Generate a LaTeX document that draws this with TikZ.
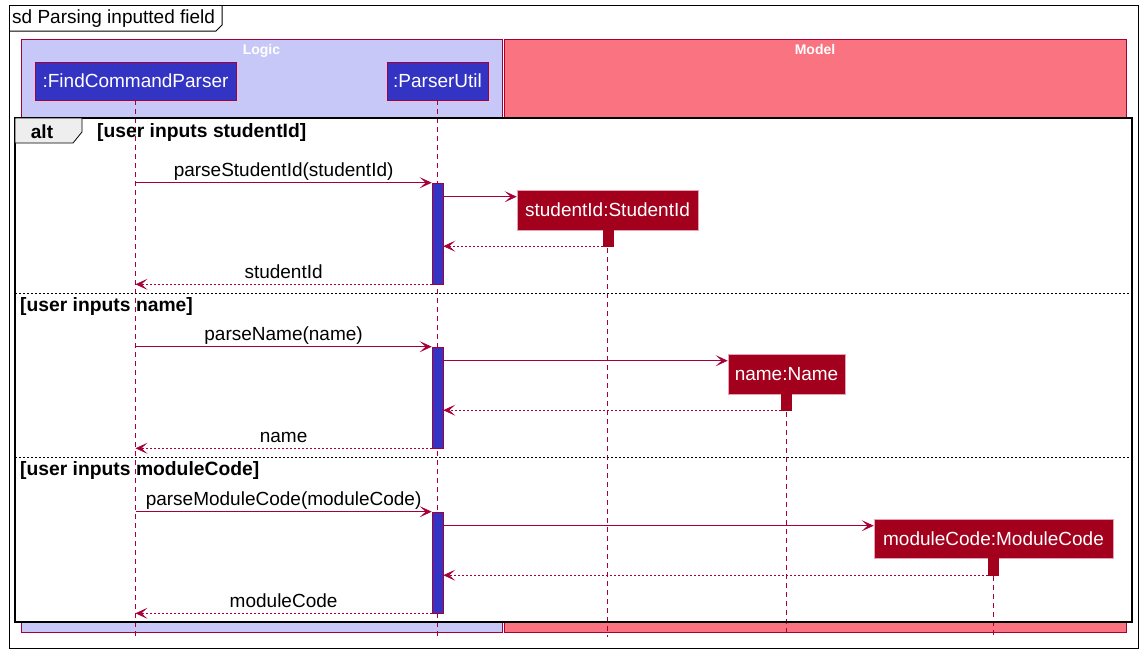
\documentclass[tikz,border=0pt]{standalone}
\usepackage{fontspec}
\setmainfont{Liberation Sans}
\usetikzlibrary{arrows.meta}

\definecolor{umlred}{RGB}{168,0,54}
\definecolor{logicfill}{RGB}{200,200,248}
\definecolor{modelfill}{RGB}{249,115,129}
\definecolor{actorblue}{RGB}{51,51,196}
\definecolor{objred}{RGB}{162,0,28}
\definecolor{objline}{RGB}{232,160,180}
\definecolor{tabgrey}{RGB}{238,238,238}

\tikzstyle{lane} = [rectangle, draw=umlred, line width=0.8pt, inner sep=0pt]
\tikzstyle{lanetitle} = [anchor=north, text=white, font=\fontsize{14}{16}\selectfont\bfseries, inner sep=0pt]
\tikzstyle{actor} = [rectangle, draw=umlred, line width=0.8pt, fill=actorblue, text=white, font=\fontsize{19}{21}\selectfont, inner sep=0pt]
\tikzstyle{created} = [rectangle, draw=objline, line width=0.6pt, fill=objred, text=white, font=\fontsize{19}{21}\selectfont, inner sep=0pt]
\tikzstyle{activation} = [rectangle, draw=umlred, line width=0.6pt, fill=actorblue, inner sep=0pt, minimum width=11pt]
\tikzstyle{objact} = [rectangle, draw=objred, fill=objred, inner sep=0pt, minimum width=10pt]
\tikzstyle{lifeline} = [draw=umlred, line width=0.8pt, dash pattern=on 5pt off 4pt]
\tikzstyle{call} = [draw=umlred, line width=0.8pt, -{Stealth[length=12pt,width=11pt,inset=6pt]}]
\tikzstyle{reply} = [call, dash pattern=on 2pt off 2pt]
\tikzstyle{msg} = [anchor=south, inner sep=1.5pt, text height=13.5pt, text depth=4pt, font=\fontsize{19}{21}\selectfont]
\tikzstyle{guard} = [anchor=west, inner sep=0pt, font=\fontsize{19.3}{21}\selectfont\bfseries]
\tikzstyle{separator} = [draw=black, line width=0.8pt, dash pattern=on 2pt off 2pt]

\begin{document}
\begin{tikzpicture}[x=1pt, y=-1pt]
\useasboundingbox (0,0) rectangle (1144,654);

% Frame
\node (frame) [rectangle, draw=black, line width=1pt, minimum width=1129pt, minimum height=643pt, inner sep=0pt] at (573.5,326.5) {};
\draw [line width=1pt] (9,31) -- (216,31) -- (222,25) -- (222,5);
\node (title) [anchor=west, inner sep=0pt, font=\fontsize{19}{21}\selectfont] at (12,19) {sd Parsing inputted field};

% Lanes
\node (logic) [lane, fill=logicfill, minimum width=481pt, minimum height=593pt] at (261.5,335.5) {};
\node (model) [lane, fill=modelfill, minimum width=622pt, minimum height=593pt] at (815,335.5) {};
\node (logictitle) [lanetitle] at ([yshift=-6pt]logic.north) {Logic};
\node (modeltitle) [lanetitle] at ([yshift=-6pt]model.north) {Model};

% Participants
\node (fcp) [actor, minimum width=201pt, minimum height=38pt] at (135.5,81) {:FindCommandParser};
\node (pu) [actor, minimum width=101pt, minimum height=38pt] at (437.5,81) {:ParserUtil};
\coordinate (bottom) at (0,637);

% Alt fragment background
\node (alt) [rectangle, fill=white, minimum width=1117pt, minimum height=504pt, inner sep=0pt] at (573.5,370) {};

% Created objects
\node (sid) [created, minimum width=181pt, minimum height=40pt] at (607.5,210) {studentId:StudentId};
\node (nm) [created, minimum width=117pt, minimum height=40pt] at (786.5,374) {name:Name};
\node (mc) [created, minimum width=239pt, minimum height=39pt] at (993.5,538.5) {moduleCode:ModuleCode};

% Lifelines
\draw [lifeline] (fcp.south) -- (fcp.south |- bottom);
\draw [lifeline] (pu.south) -- (pu.south |- bottom);
\draw [lifeline] (sid.south) -- (sid.south |- bottom);
\draw [lifeline] (nm.south) -- (nm.south |- bottom);
\draw [lifeline] (mc.south) -- (mc.south |- bottom);

% Alt fragment
\draw [line width=2pt] (alt.north west) rectangle (alt.south east);
\draw [fill=tabgrey, line width=0.8pt] (15,118) -- (15,143) -- (73,143) -- (82,132) -- (82,118) -- cycle;
\node (alttag) [font=\fontsize{19}{21}\selectfont\bfseries, inner sep=0pt] at (42,132) {alt};
\node (g1) [guard] at (97,133) {[user inputs studentId]};
\draw [separator] (alt.west |- 0,293) -- (alt.east |- 0,293);
\node (g2) [guard] at (20,307) {[user inputs name]};
\draw [separator] (alt.west |- 0,457) -- (alt.east |- 0,457);
\node (g3) [guard] at (20,471) {[user inputs moduleCode]};

% Activations
\node (act1) [activation, minimum height=101pt] at (437.5,233.5) {};
\node (act2) [activation, minimum height=101pt] at (437.5,397.5) {};
\node (act3) [activation, minimum height=101pt] at (437.5,562.5) {};
\node (sidact) [objact, minimum height=16pt] at (608,238) {};
\node (nmact) [objact, minimum height=16pt] at (786,402) {};
\node (mcact) [objact, minimum height=17pt] at (993,566.5) {};

% Messages: studentId
\draw [call] (act1.north west -| fcp) -- node (m1) [msg] {parseStudentId(studentId)} (act1.north west);
\coordinate (c1) at ([yshift=-14pt]act1.north east);
\draw [call] (c1) -- (c1 -| sid.west);
\draw [reply] (sidact.south west) -- (sidact.south west -| act1.east);
\draw [reply] (act1.south west) -- node (r1) [msg] {studentId} (act1.south west -| fcp);

% Messages: name
\draw [call] (act2.north west -| fcp) -- node (m2) [msg] {parseName(name)} (act2.north west);
\coordinate (c2) at ([yshift=-14pt]act2.north east);
\draw [call] (c2) -- (c2 -| nm.west);
\draw [reply] (nmact.south west) -- (nmact.south west -| act2.east);
\draw [reply] (act2.south west) -- node (r2) [msg] {name} (act2.south west -| fcp);

% Messages: moduleCode
\draw [call] (act3.north west -| fcp) -- node (m3) [msg] {parseModuleCode(moduleCode)} (act3.north west);
\coordinate (c3) at ([yshift=-14pt]act3.north east);
\draw [call] (c3) -- (c3 -| mc.west);
\draw [reply] (mcact.south west) -- (mcact.south west -| act3.east);
\draw [reply] (act3.south west) -- node (r3) [msg] {moduleCode} (act3.south west -| fcp);

\end{tikzpicture}
\end{document}
